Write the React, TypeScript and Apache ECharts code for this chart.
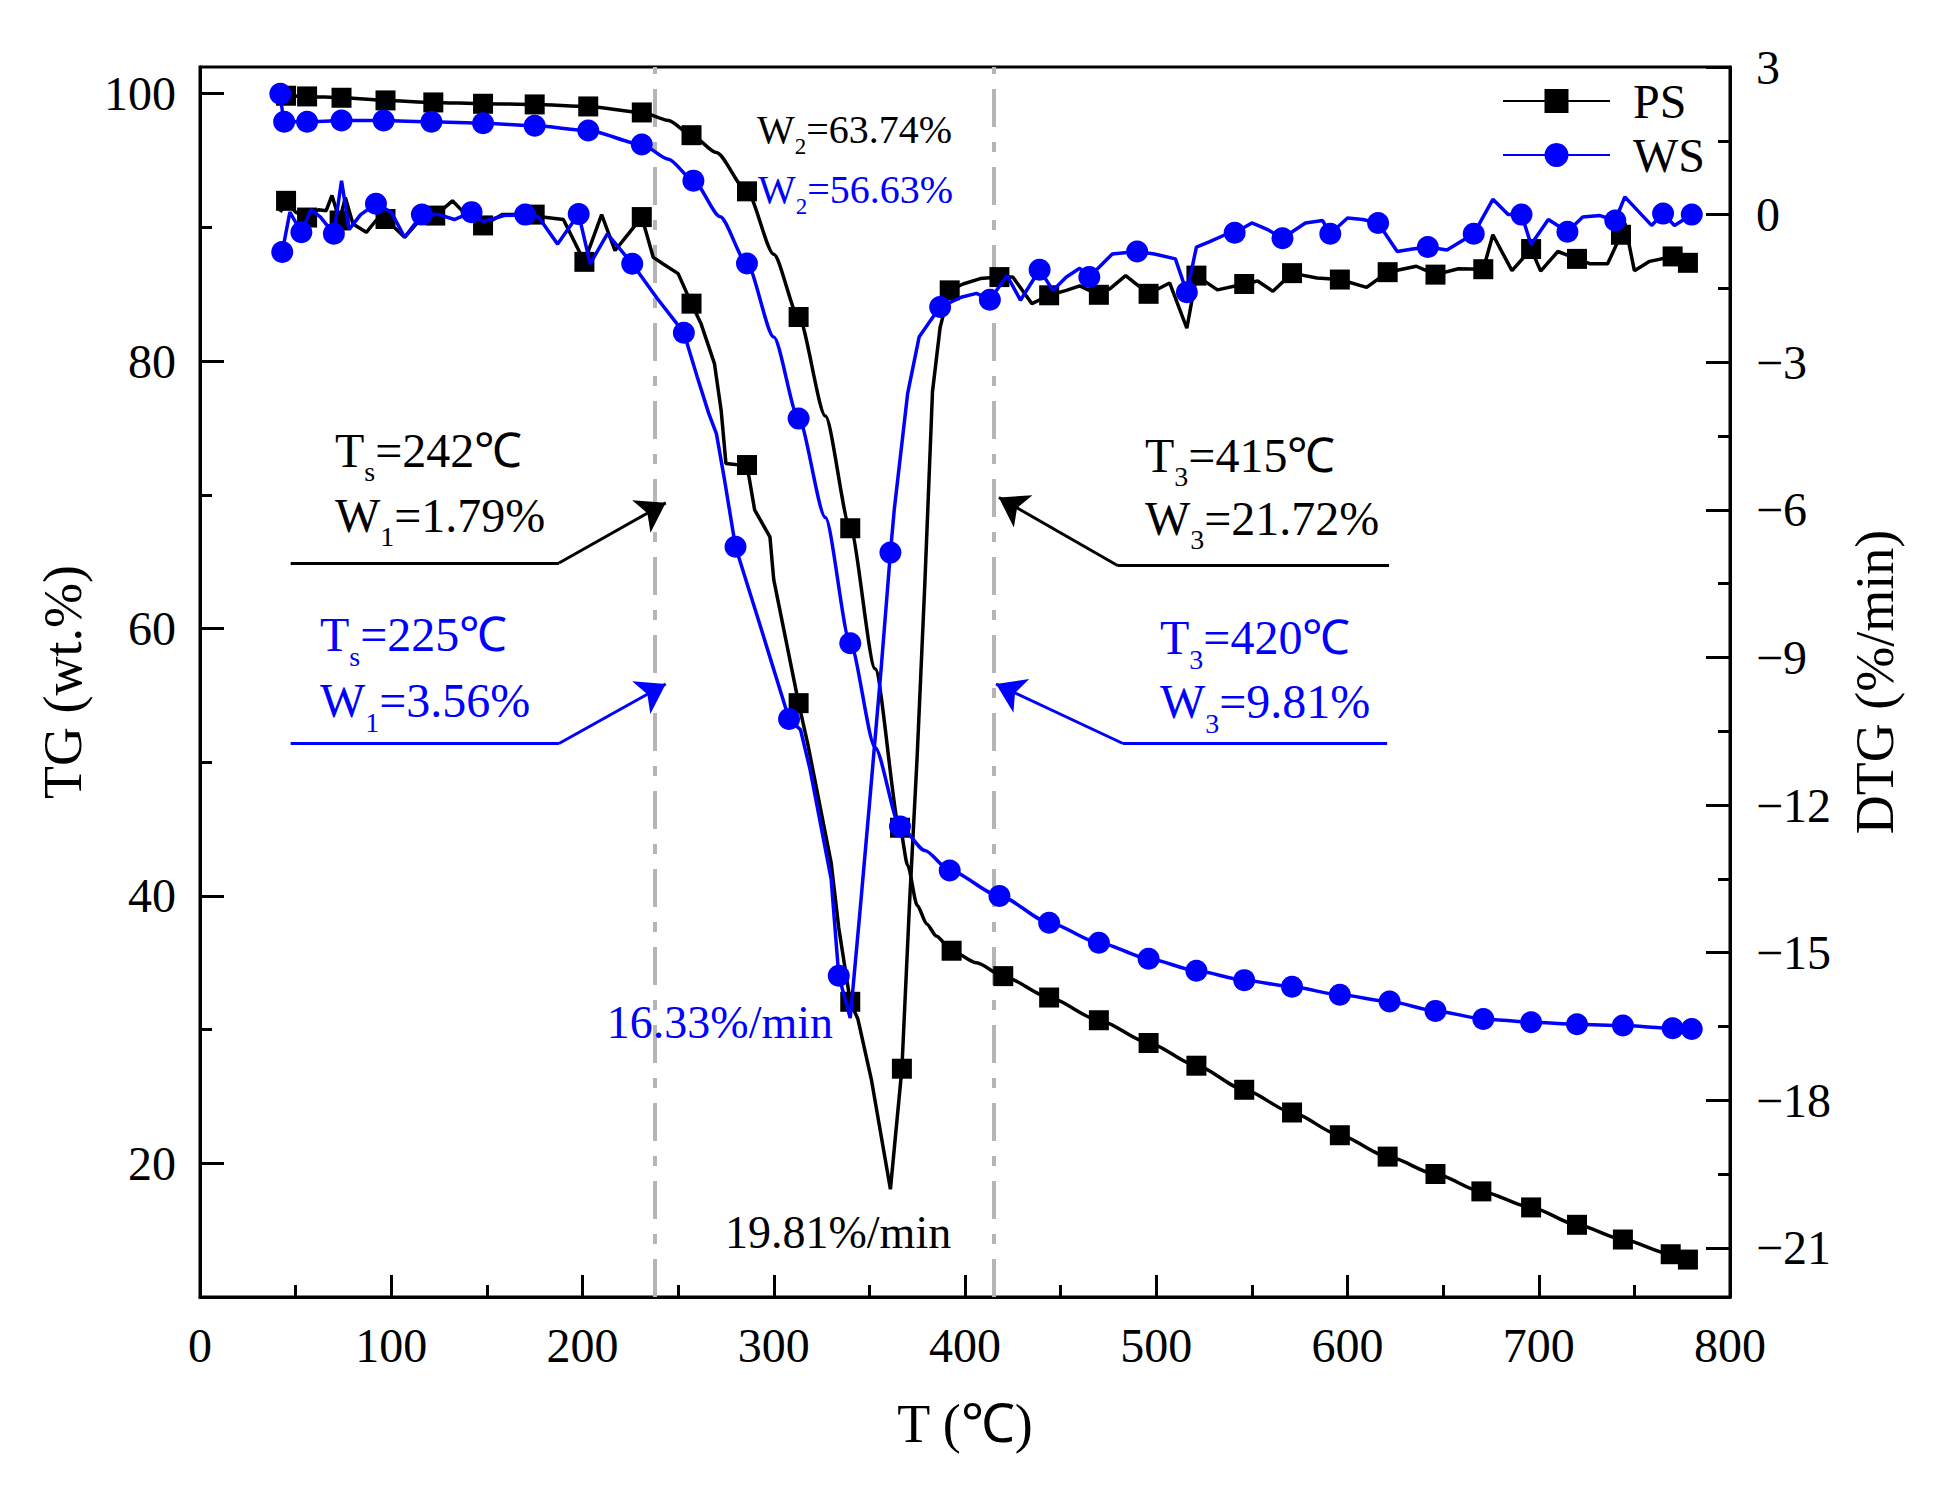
import React, { useEffect, useRef } from "react";
import * as echarts from "echarts";

const FONT = "Liberation Serif, Times New Roman, serif";
const BLACK = "#000000";
const BLUE = "#0000ff";

// ---------- PS TG ----------
const psTgT = [45, 56, 74, 97, 122, 148, 175, 203, 231, 245, 257, 270, 286, 300, 313, 327, 340, 353, 366, 370, 375, 380, 385, 393, 406, 420, 444, 470, 496, 521, 546, 571, 596, 621, 646, 670, 696, 720, 744, 769, 778];
const psTgV = [99.85, 99.8, 99.7, 99.5, 99.35, 99.25, 99.2, 99.05, 98.6, 98.0, 96.9, 95.6, 92.7, 88.0, 83.3, 75.9, 67.5, 57.0, 45.1, 42.3, 39.3, 37.9, 37.0, 35.9, 35.0, 34.0, 32.4, 30.7, 29.0, 27.3, 25.5, 23.8, 22.1, 20.5, 19.2, 17.9, 16.7, 15.4, 14.3, 13.2, 12.8];
const psTgMarks = [45, 56, 74, 97, 122, 148, 175, 203, 231, 257, 286, 313, 340, 366, 393, 420, 444, 470, 496, 521, 546, 571, 596, 621, 646, 670, 696, 720, 744, 769, 778];

// ---------- WS TG ----------
const wsTgT = [42, 44, 56, 74, 96, 121, 148, 175, 203, 231, 245, 258, 272, 286, 300, 313, 327, 340, 353, 366, 379, 392, 418, 444, 470, 496, 521, 546, 571, 596, 622, 646, 671, 696, 720, 744, 770, 780];
const wsTgV = [100.0, 97.9, 97.9, 98.0, 98.0, 97.9, 97.8, 97.6, 97.25, 96.2, 95.1, 93.5, 90.8, 87.3, 81.8, 75.7, 68.3, 58.9, 51.1, 45.2, 43.4, 41.9, 40.0, 38.0, 36.5, 35.3, 34.4, 33.7, 33.2, 32.6, 32.1, 31.4, 30.8, 30.55, 30.4, 30.3, 30.1, 30.05];
const wsTgMarks = [42, 44, 56, 74, 96, 121, 148, 175, 203, 231, 258, 286, 313, 340, 366, 392, 418, 444, 470, 496, 521, 546, 571, 596, 622, 646, 671, 696, 720, 744, 770, 780];

// ---------- PS DTG ----------
const psDtgT = [42, 45, 50, 56, 62, 66, 69, 73, 76, 80, 87, 92, 97, 107, 116, 123, 132, 139, 148, 158, 175, 179, 190, 201, 210, 217, 224, 231, 237, 242, 250, 257, 262, 269, 272.5, 275, 280, 286, 290, 298, 300, 313, 318, 330, 334, 340, 344, 351, 361, 367, 371, 375, 379, 383, 387, 392, 399, 408, 418, 425, 435, 444, 453, 460, 470, 476, 484, 496, 507, 516, 521, 532, 546, 553, 561, 571, 584, 596, 610, 621, 636, 646, 658, 671, 676, 686, 696, 701, 710, 720, 727, 736, 743, 745, 750, 758, 770, 778];
const psDtgV = [0.05, 0.28, 0.05, -0.06, 0.1, 0.08, 0.39, -0.12, 0.35, -0.19, -0.36, -0.12, -0.09, -0.46, -0.06, -0.02, 0.28, 0.0, -0.22, 0.0, 0.0, -0.05, -0.1, -0.96, 0.0, -0.73, -0.39, -0.05, -0.87, -1.0, -1.2, -1.81, -2.22, -3.03, -3.98, -5.06, -5.08, -5.09, -6.0, -6.55, -7.42, -9.93, -10.8, -13.17, -14.5, -16.0, -16.35, -17.57, -19.81, -17.36, -14.0, -11.0, -7.5, -3.6, -2.29, -1.54, -1.41, -1.3, -1.27, -1.27, -1.81, -1.64, -1.54, -1.45, -1.63, -1.5, -1.24, -1.61, -1.39, -2.31, -1.24, -1.53, -1.41, -1.35, -1.56, -1.19, -1.29, -1.32, -1.48, -1.17, -1.05, -1.22, -1.1, -1.11, -0.41, -1.14, -0.7, -1.15, -0.75, -0.9, -1.0, -1.0, -0.41, -0.17, -1.14, -0.95, -0.85, -0.98];
const psDtgMarks = [45, 56, 73, 97, 123, 148, 175, 201, 231, 257, 286, 313, 340, 367, 392, 418, 444, 470, 496, 521, 546, 571, 596, 621, 646, 671, 696, 720, 743, 770, 778];

// ---------- WS DTG ----------
const wsDtgT = [43, 47, 53, 58, 63, 70, 74, 78, 84, 92, 100, 107, 116, 125, 133, 142, 148, 159, 170, 177, 187, 198, 204, 213, 226, 239, 253, 260, 266, 270, 274, 280, 292, 308, 314, 319, 330, 334, 340, 345, 350, 356, 361, 363, 370, 376, 382, 387, 398, 406, 413, 422, 429, 439, 446, 453, 460, 465, 477, 490, 499, 510, 516, 521, 528, 536, 541, 550, 558, 566, 578, 587, 591, 600, 608, 616, 626, 634, 642, 652, 666, 676, 684, 691, 696, 705, 715, 723, 732, 740, 745, 759, 765, 771, 780];
const wsDtgV = [-0.76, 0.05, -0.36, 0.1, -0.05, -0.39, 0.69, -0.3, 0.0, 0.22, 0.05, -0.46, 0.0, 0.0, -0.1, 0.05, -0.14, -0.02, 0.0, -0.05, -0.6, 0.01, -1.0, -0.39, -1.0, -1.7, -2.4, -3.3, -4.04, -4.45, -5.33, -6.75, -8.24, -10.25, -10.47, -11.28, -13.5, -15.47, -16.33, -14.2, -12.0, -9.3, -6.87, -6.0, -3.64, -2.49, -2.15, -1.88, -1.68, -1.6, -1.73, -1.24, -1.74, -1.12, -1.54, -1.27, -1.09, -1.27, -0.8, -0.75, -0.8, -0.9, -1.58, -0.66, -0.55, -0.41, -0.37, -0.17, -0.3, -0.48, -0.17, -0.12, -0.39, -0.07, -0.1, -0.17, -0.75, -0.7, -0.66, -0.72, -0.39, 0.31, 0.0, 0.0, -0.61, -0.1, -0.35, -0.05, -0.02, -0.12, 0.36, -0.22, 0.02, -0.22, 0.0];
const wsDtgMarks = [43, 53, 70, 92, 116, 142, 170, 198, 226, 253, 280, 308, 334, 361, 387, 413, 439, 465, 490, 516, 541, 566, 591, 616, 642, 666, 691, 715, 740, 765, 780];

// ---------- axes ----------
const xMinor = [50, 150, 250, 350, 450, 550, 650, 750];
const tgMajor = [20, 40, 60, 80, 100];
const tgMinor = [30, 50, 70, 90];
const dtgMajor = [-21, -18, -15, -12, -9, -6, -3, 0, 3];
const dtgMinor = [-19.5, -16.5, -13.5, -10.5, -7.5, -4.5, -1.5, 1.5];

// stage boundary lines (°C)
const stageLines = [238, 415];

// annotation leader lines in (T, TG) coordinates
const leaderFlat = [
  { c: [[47.4, 64.9], [187.7, 64.9]], color: BLACK },
  { c: [[47.4, 51.4], [187.7, 51.4]], color: BLUE },
  { c: [[621.7, 64.7], [480, 64.7]], color: BLACK },
  { c: [[620.7, 51.4], [482.6, 51.4]], color: BLUE },
];
const leaderArrow = [
  { c: [[187.7, 64.9], [243.5, 69.4]], color: BLACK },
  { c: [[187.7, 51.4], [243.5, 55.85]], color: BLUE },
  { c: [[480, 64.7], [417.7, 69.8]], color: BLACK },
  { c: [[482.6, 51.4], [416.2, 55.85]], color: BLUE },
];

function build(ts: number[], vs: number[], marks: number[]) {
  const s = new Set(marks);
  return ts.map((t, i) =>
    s.has(t) ? { value: [t, vs[i]] } : { value: [t, vs[i]], symbol: "none" }
  );
}

// L = line pitch; subscript is pushed down ~0.45F below the main text centre
function rich(F: number, L: number) {
  return {
    m: { fontSize: F, lineHeight: L, fontFamily: FONT },
    s: {
      fontSize: Math.round(F * 0.58),
      lineHeight: 2,
      verticalAlign: "top",
      padding: [Math.round(L / 2 + 0.16 * F), 0, 0, 0],
      fontFamily: FONT,
    },
  };
}

function sub(a: string, b: string, c: string) {
  return `{m|${a}}{s|${b}}{m|${c}}`;
}

// y = centre of the first line of text
function anno(text: string, x: number, y: number, color: string, F: number, L: number, align = "left") {
  return {
    type: "text",
    x,
    y: y - L / 2,
    silent: true,
    z: 100,
    style: {
      text,
      fill: color,
      align,
      verticalAlign: "top",
      fontFamily: FONT,
      fontSize: F,
      rich: rich(F, L),
    },
  };
}

export default function App() {
  const ref = useRef<HTMLDivElement>(null);

  useEffect(() => {
    if (!ref.current) return;
    const chart = echarts.init(ref.current, null, { renderer: "svg" });

    const minorAxisCommon = {
      axisLine: { show: false, onZero: false },
      axisLabel: { show: false },
      splitLine: { show: false },
    };

    const option: any = {
      animation: false,
      backgroundColor: "#ffffff",
      textStyle: { fontFamily: FONT, color: BLACK },
      grid: {
        left: 200,
        right: 218,
        top: 67,
        bottom: 204,
        show: true,
        borderColor: BLACK,
        borderWidth: 3,
        containLabel: false,
        outerBoundsMode: "none",
      },
      legend: {
        data: ["PS", "WS"],
        orient: "vertical",
        left: 1497,
        top: 72,
        itemWidth: 107,
        itemHeight: 30,
        itemGap: 6,
        textStyle: { fontSize: 48, fontFamily: FONT, color: BLACK, padding: [0, 0, 0, 18] },
      },
      xAxis: [
        {
          type: "value",
          min: 0,
          max: 800,
          interval: 100,
          position: "bottom",
          name: "T (℃)",
          nameLocation: "middle",
          nameGap: 100,
          nameTextStyle: { fontSize: 54, fontFamily: FONT, color: BLACK },
          axisLine: { show: true, onZero: false, lineStyle: { color: BLACK, width: 3 } },
          axisTick: { show: true, inside: true, length: 22, lineStyle: { color: BLACK, width: 3 } },
          axisLabel: { fontSize: 48, fontFamily: FONT, color: BLACK, margin: 24 },
          splitLine: { show: false },
        },
        {
          type: "value",
          min: 0,
          max: 800,
          position: "bottom",
          ...minorAxisCommon,
          axisTick: { show: true, inside: true, length: 12, customValues: xMinor, lineStyle: { color: BLACK, width: 3 } },
        },
      ],
      yAxis: [
        {
          type: "value",
          min: 10,
          max: 102,
          position: "left",
          name: "TG (wt.%)",
          nameLocation: "middle",
          nameGap: 110,
          nameRotate: 90,
          nameTextStyle: { fontSize: 54, fontFamily: FONT, color: BLACK },
          axisLine: { show: true, onZero: false, lineStyle: { color: BLACK, width: 3 } },
          axisTick: { show: true, inside: true, length: 24, customValues: tgMajor, lineStyle: { color: BLACK, width: 3 } },
          axisLabel: { fontSize: 48, fontFamily: FONT, color: BLACK, margin: 24, customValues: tgMajor },
          splitLine: { show: false },
        },
        {
          type: "value",
          min: -22,
          max: 3,
          position: "right",
          name: "DTG (%/min)",
          nameLocation: "middle",
          nameGap: 118,
          nameRotate: 90,
          nameTextStyle: { fontSize: 54, fontFamily: FONT, color: BLACK },
          axisLine: { show: true, onZero: false, lineStyle: { color: BLACK, width: 3 } },
          axisTick: { show: true, inside: true, length: 24, customValues: dtgMajor, lineStyle: { color: BLACK, width: 3 } },
          axisLabel: {
            fontSize: 48,
            fontFamily: FONT,
            color: BLACK,
            margin: 26,
            customValues: dtgMajor,
            formatter: (v: number) => String(v).replace("-", "\u2212"),
          },
          splitLine: { show: false },
        },
        {
          type: "value",
          min: 10,
          max: 102,
          position: "left",
          ...minorAxisCommon,
          axisTick: { show: true, inside: true, length: 12, customValues: tgMinor, lineStyle: { color: BLACK, width: 3 } },
        },
        {
          type: "value",
          min: -22,
          max: 3,
          position: "right",
          ...minorAxisCommon,
          axisTick: { show: true, inside: true, length: 12, customValues: dtgMinor, lineStyle: { color: BLACK, width: 3 } },
        },
      ],
      series: [
        {
          name: "PS",
          type: "line",
          xAxisIndex: 0,
          yAxisIndex: 0,
          data: build(psTgT, psTgV, psTgMarks),
          symbol: "rect",
          symbolSize: 20,
          smooth: 0.25,
          smoothMonotone: "x",
          lineStyle: { color: BLACK, width: 3.5 },
          itemStyle: { color: BLACK },
          z: 3,
          markLine: {
            silent: true,
            symbol: ["none", "none"],
            label: { show: false },
            lineStyle: { color: "#b5b5b5", width: 4, type: [38, 15, 10, 15] },
            data: stageLines.map((x) => ({ xAxis: x })),
            z: 1,
          },
        },
        {
          name: "WS",
          type: "line",
          xAxisIndex: 0,
          yAxisIndex: 0,
          data: build(wsTgT, wsTgV, wsTgMarks),
          symbol: "circle",
          symbolSize: 22,
          smooth: 0.25,
          smoothMonotone: "x",
          lineStyle: { color: BLUE, width: 3.5 },
          itemStyle: { color: BLUE },
          z: 4,
        },
        {
          name: "PS",
          type: "line",
          xAxisIndex: 0,
          yAxisIndex: 1,
          data: build(psDtgT, psDtgV, psDtgMarks),
          symbol: "rect",
          symbolSize: 20,
          smooth: false,
          lineStyle: { color: BLACK, width: 3.5 },
          itemStyle: { color: BLACK },
          z: 3,
        },
        {
          name: "WS",
          type: "line",
          xAxisIndex: 0,
          yAxisIndex: 1,
          data: build(wsDtgT, wsDtgV, wsDtgMarks),
          symbol: "circle",
          symbolSize: 22,
          smooth: false,
          lineStyle: { color: BLUE, width: 3.5 },
          itemStyle: { color: BLUE },
          z: 4,
        },
        {
          type: "lines",
          coordinateSystem: "cartesian2d",
          xAxisIndex: 0,
          yAxisIndex: 0,
          silent: true,
          symbol: ["none", "none"],
          lineStyle: { width: 3, opacity: 1 },
          data: leaderFlat.map((d) => ({ coords: d.c, lineStyle: { color: d.color, width: 3, opacity: 1 } })),
          z: 5,
        },
        {
          type: "lines",
          coordinateSystem: "cartesian2d",
          xAxisIndex: 0,
          yAxisIndex: 0,
          silent: true,
          symbol: ["none", "arrow"],
          symbolSize: 28,
          lineStyle: { width: 3, opacity: 1 },
          data: leaderArrow.map((d) => ({ coords: d.c, lineStyle: { color: d.color, width: 3, opacity: 1 } })),
          z: 5,
        },
      ],
      graphic: [
        anno(sub("W", "2", "=63.74%"), 757, 129, BLACK, 40, 50),
        anno(sub("W", "2", "=56.63%"), 758, 189, BLUE, 40, 50),
        anno(sub("T", "s", "=242℃") + "\n" + sub("W", "1", "=1.79%"), 335, 450, BLACK, 48, 65),
        anno(sub("T", "s", "=225℃") + "\n" + sub("W", "1", "=3.56%"), 320, 634, BLUE, 48, 66),
        anno(sub("T", "3", "=415℃") + "\n" + sub("W", "3", "=21.72%"), 1145, 455, BLACK, 48, 63),
        anno(sub("T", "3", "=420℃") + "\n" + sub("W", "3", "=9.81%"), 1160, 637, BLUE, 48, 64),
        anno("{m|16.33%/min}", 833, 1022, BLUE, 46, 56, "right"),
        anno("{m|19.81%/min}", 725, 1232, BLACK, 46, 56),
      ],
    };

    chart.setOption(option);
    return () => chart.dispose();
  }, []);

  return (
    <div
      ref={ref}
      style={{ position: "absolute", left: 0, top: 0, width: 1948, height: 1501, background: "#ffffff" }}
    />
  );
}
